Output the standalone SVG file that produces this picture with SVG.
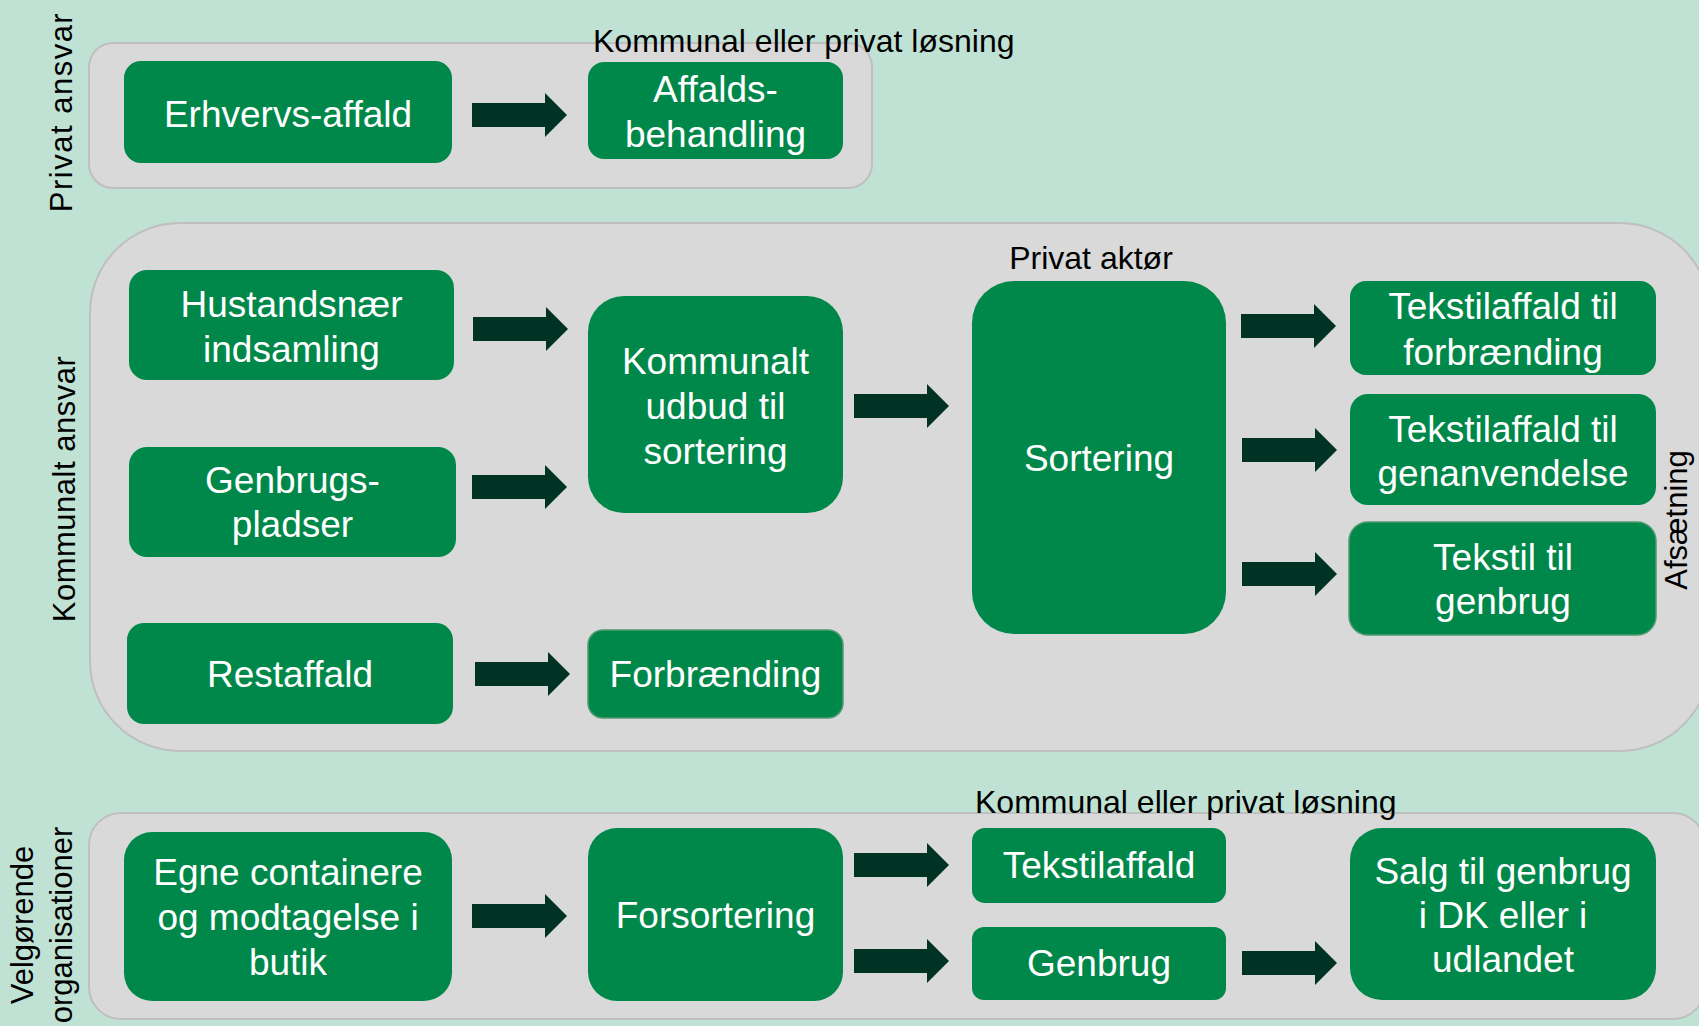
<svg xmlns="http://www.w3.org/2000/svg" width="1699" height="1026" viewBox="0 0 1699 1026">
<style>
.bg{fill:#c0e2d4}
.panel{fill:#d9d9d9;stroke:#bfbfbf;stroke-width:2}
.node{fill:#00884a}
.node.edge{stroke:#4f9a70;stroke-width:1.5}
.nt{font-family:"Liberation Sans",Arial,sans-serif;font-size:37px;fill:#ffffff;text-anchor:middle}
.lbl{font-family:"Liberation Sans",Arial,sans-serif;font-size:32px;fill:#000000}
.vl{font-family:"Liberation Sans",Arial,sans-serif;font-size:31px;fill:#000000;text-anchor:middle}
.arrow{fill:#003324}
</style>
<defs>
<path id="arr" d="M-95,-12 H-22 V-22 L0,0 L-22,22 V12 H-95 Z"/>
</defs>
<rect class="bg" x="0" y="0" width="1699" height="1026"/>

<g id="panels">
<rect id="panel-privat" class="panel" x="89" y="43" width="783" height="145" rx="24"/>
<rect id="panel-kommunalt" class="panel" x="90" y="223" width="1620" height="528" rx="90"/>
<rect id="panel-velgoerende" class="panel" x="89" y="813" width="1616" height="206" rx="32"/>
</g>

<g id="side-labels">
<text class="vl" transform="translate(72,112) rotate(-90)" letter-spacing="1.5">Privat ansvar</text>
<text class="vl" transform="translate(75,489) rotate(-90)" letter-spacing="0.5">Kommunalt ansvar</text>
<text class="vl" transform="translate(33,925) rotate(-90)">Velgørende</text>
<text class="vl" transform="translate(72,925) rotate(-90)">organisationer</text>
<text class="vl" transform="translate(1687,520) rotate(-90)">Afsætning</text>
</g>

<g id="labels">
<text class="lbl" x="593" y="52">Kommunal eller privat løsning</text>
<text class="lbl" x="1091" y="269" text-anchor="middle">Privat aktør</text>
<text class="lbl" x="975" y="813">Kommunal eller privat løsning</text>
</g>

<g id="connectors">
<use href="#arr" class="arrow" transform="translate(567,115)"/>
<use href="#arr" class="arrow" transform="translate(568,329)"/>
<use href="#arr" class="arrow" transform="translate(567,487)"/>
<use href="#arr" class="arrow" transform="translate(570,674)"/>
<use href="#arr" class="arrow" transform="translate(949,406)"/>
<use href="#arr" class="arrow" transform="translate(1336,326)"/>
<use href="#arr" class="arrow" transform="translate(1337,450)"/>
<use href="#arr" class="arrow" transform="translate(1337,574)"/>
<use href="#arr" class="arrow" transform="translate(567,916)"/>
<use href="#arr" class="arrow" transform="translate(949,865)"/>
<use href="#arr" class="arrow" transform="translate(949,961)"/>
<use href="#arr" class="arrow" transform="translate(1337,963)"/>
</g>

<g id="n-erhvervs">
<rect class="node" x="124" y="61" width="328" height="102" rx="17"/>
<text class="nt" x="288" y="127">Erhvervs-affald</text>
</g>
<g id="n-affaldsbehandling">
<rect class="node" x="588" y="62" width="255" height="97" rx="16"/>
<text class="nt" x="715.5" y="102">Affalds-</text>
<text class="nt" x="715.5" y="147">behandling</text>
</g>
<g id="n-hustandsnaer">
<rect class="node" x="129" y="270" width="325" height="110" rx="18"/>
<text class="nt" x="291.5" y="317">Hustandsnær</text>
<text class="nt" x="291.5" y="362">indsamling</text>
</g>
<g id="n-genbrugspladser">
<rect class="node" x="129" y="447" width="327" height="110" rx="18"/>
<text class="nt" x="292.5" y="493">Genbrugs-</text>
<text class="nt" x="292.5" y="537">pladser</text>
</g>
<g id="n-restaffald">
<rect class="node" x="127" y="623" width="326" height="101" rx="17"/>
<text class="nt" x="290" y="687">Restaffald</text>
</g>
<g id="n-forbraending">
<rect class="node edge" x="588" y="630" width="255" height="88" rx="15"/>
<text class="nt" x="715.5" y="687">Forbrænding</text>
</g>
<g id="n-kommunalt-udbud">
<rect class="node" x="588" y="296" width="255" height="217" rx="36"/>
<text class="nt" x="715.5" y="374">Kommunalt</text>
<text class="nt" x="715.5" y="419">udbud til</text>
<text class="nt" x="715.5" y="464">sortering</text>
</g>
<g id="n-sortering">
<rect class="node" x="972" y="281" width="254" height="353" rx="42"/>
<text class="nt" x="1099" y="471">Sortering</text>
</g>
<g id="n-tekstil-forbraending">
<rect class="node" x="1350" y="281" width="306" height="94" rx="16"/>
<text class="nt" x="1503" y="319">Tekstilaffald til</text>
<text class="nt" x="1503" y="365">forbrænding</text>
</g>
<g id="n-tekstil-genanvendelse">
<rect class="node" x="1350" y="394" width="306" height="111" rx="18"/>
<text class="nt" x="1503" y="442">Tekstilaffald til</text>
<text class="nt" x="1503" y="486">genanvendelse</text>
</g>
<g id="n-tekstil-genbrug">
<rect class="node edge" x="1349" y="522" width="307" height="113" rx="19"/>
<text class="nt" x="1503" y="570">Tekstil til</text>
<text class="nt" x="1503" y="614">genbrug</text>
</g>
<g id="n-egne-containere">
<rect class="node" x="124" y="832" width="328" height="169" rx="28"/>
<text class="nt" x="288" y="885">Egne containere</text>
<text class="nt" x="288" y="930">og modtagelse i</text>
<text class="nt" x="288" y="975">butik</text>
</g>
<g id="n-forsortering">
<rect class="node" x="588" y="828" width="255" height="173" rx="29"/>
<text class="nt" x="715.5" y="928">Forsortering</text>
</g>
<g id="n-tekstilaffald">
<rect class="node" x="972" y="828" width="254" height="75" rx="13"/>
<text class="nt" x="1099" y="878">Tekstilaffald</text>
</g>
<g id="n-genbrug">
<rect class="node" x="972" y="927" width="254" height="73" rx="12"/>
<text class="nt" x="1099" y="976">Genbrug</text>
</g>
<g id="n-salg">
<rect class="node" x="1350" y="828" width="306" height="172" rx="32"/>
<text class="nt" x="1503" y="884">Salg til genbrug</text>
<text class="nt" x="1503" y="928">i DK eller i</text>
<text class="nt" x="1503" y="972">udlandet</text>
</g>
</svg>
